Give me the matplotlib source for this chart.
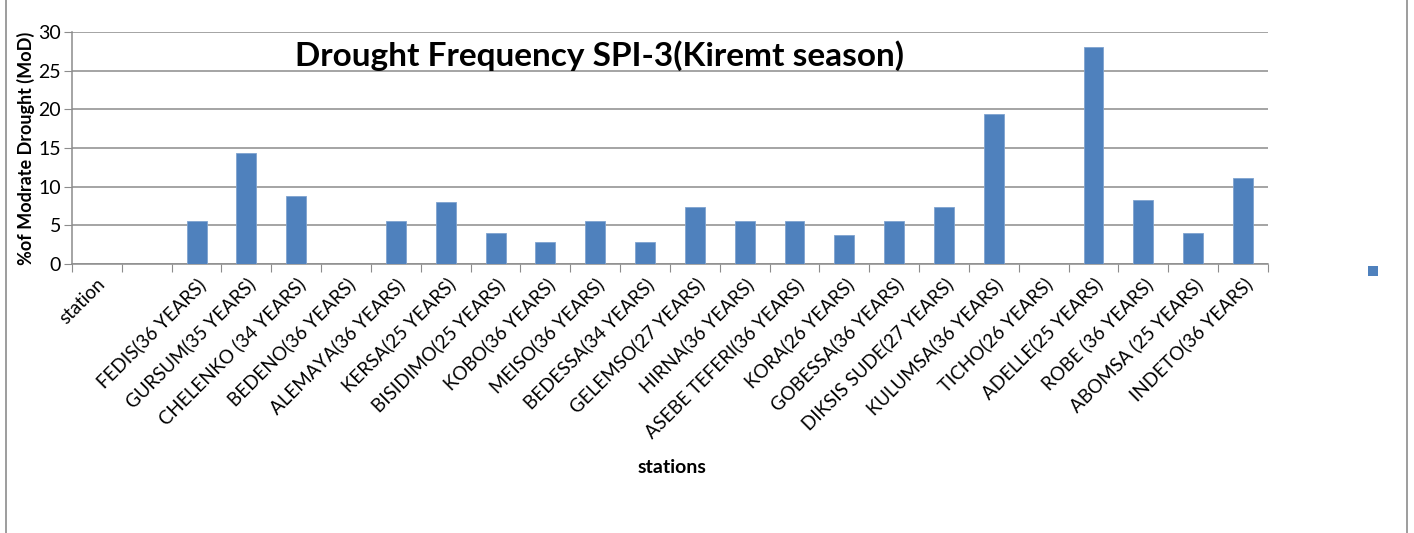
import matplotlib.pyplot as plt
from matplotlib.lines import Line2D
from matplotlib.patches import Patch

stations = ['station', '', 'FEDIS(36 YEARS)', 'GURSUM(35 YEARS)', 'CHELENKO (34 YEARS)',
            'BEDENO(36 YEARS)', 'ALEMAYA(36 YEARS)', 'KERSA(25 YEARS)', 'BISIDIMO(25 YEARS)',
            'KOBO(36 YEARS)', 'MEISO(36 YEARS)', 'BEDESSA(34 YEARS)', 'GELEMSO(27 YEARS)',
            'HIRNA(36 YEARS)', 'ASEBE TEFERI(36 YEARS)', 'KORA(26 YEARS)', 'GOBESSA(36 YEARS)',
            'DIKSIS SUDE(27 YEARS)', 'KULUMSA(36 YEARS)', 'TICHO(26 YEARS)', 'ADELLE(25 YEARS)',
            'ROBE (36 YEARS)', 'ABOMSA (25 YEARS)', 'INDETO(36 YEARS)']
moderate = [0, 0, 5.6, 14.3, 8.8, 0, 5.6, 8.0, 4.0, 2.8, 5.6, 2.9, 7.4,
            5.6, 5.6, 3.8, 5.6, 7.4, 19.4, 0, 28.0, 8.3, 4.0, 11.1]
yticks = [0, 5, 10, 15, 20, 25, 30]

plt.rcParams['font.family'] = ['Lato', 'DejaVu Sans']

fig = plt.figure(figsize=(14.14, 5.33), dpi=100)
ax = fig.add_axes([0.0509, 0.5047, 0.8458, 0.4353])

x = list(range(len(stations)))
ax.bar(x, moderate, width=0.4, color='#4F81BD', edgecolor='#7FA3CF', linewidth=0.6, zorder=3)

ax.set_xlim(-0.5, len(stations) - 0.5)
ax.set_ylim(0, 30)
ax.set_yticks(yticks)
ax.set_yticklabels([str(v) for v in yticks], fontsize=14)
ax.yaxis.grid(True, color='#8C8C8C', linewidth=1.1, zorder=0)

# category boundaries carry the tick marks, centres carry the labels
ax.set_xticks([i - 0.5 for i in range(len(stations) + 1)], minor=False)
ax.set_xticklabels([])
ax.set_xticks(x, minor=True)
ax.set_xticklabels(stations, minor=True, rotation=45, ha='right',
                   rotation_mode='anchor', fontsize=13.5)
ax.tick_params(axis='x', which='minor', length=0, pad=8)
ax.tick_params(axis='x', which='major', length=6, color='#8C8C8C', direction='out')
ax.tick_params(axis='y', length=6, color='#8C8C8C', pad=2)

for s in ['top', 'right']:
    ax.spines[s].set_visible(False)
for s in ['left', 'bottom']:
    ax.spines[s].set_color('#8C8C8C')
    ax.spines[s].set_linewidth(1.1)

ax.set_ylabel('%of Modrate Drought (MoD)', fontsize=13, fontweight='bold', labelpad=2)
fig.text(0.475, 0.123, 'stations', fontsize=14, fontweight='bold', ha='center', va='center')
ax.text(0.441, 0.90, 'Drought Frequency SPI-3(Kiremt season)', transform=ax.transAxes,
        fontsize=24, fontweight='bold', ha='center', va='center')

fig.legend(handles=[Patch(facecolor='#4F81BD')], labels=[''], loc='center',
           bbox_to_anchor=(0.975, 0.49), frameon=False, handlelength=0.7, handleheight=0.7)

fig.add_artist(Line2D([0.0045, 0.0045], [0, 1], color='#8C8C8C', linewidth=1.2))
fig.add_artist(Line2D([0.995, 0.995], [0, 1], color='#8C8C8C', linewidth=1.2))

fig.savefig('out.png', dpi=100)
